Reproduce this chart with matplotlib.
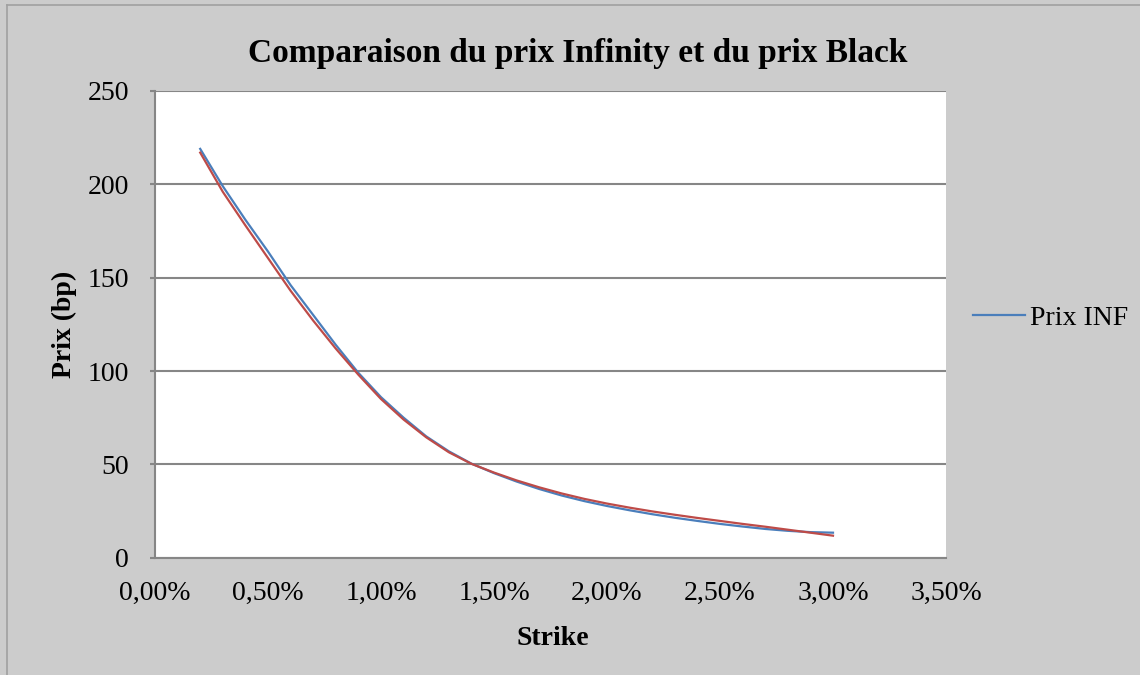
import matplotlib
matplotlib.use('Agg')
import matplotlib.pyplot as plt
from matplotlib.lines import Line2D
from matplotlib.ticker import FuncFormatter

# strike en %
strike = [0.2, 0.3, 0.4, 0.5, 0.6, 0.7, 0.8, 0.9, 1.0, 1.1, 1.2, 1.3, 1.4, 1.5,
          1.6, 1.7, 1.8, 1.9, 2.0, 2.1, 2.2, 2.3, 2.4, 2.5, 2.6, 2.7, 2.8, 2.9, 3.0]
prix_inf = [219, 199, 181, 164, 146, 130, 114, 99, 86, 75, 65, 57, 50.4, 45.3,
            40.8, 36.8, 33.3, 30.3, 27.7, 25.4, 23.3, 21.4, 19.7, 18.1, 16.7, 15.4, 14.4, 13.7, 13.4]
prix_black = [217, 196, 178, 160.5, 143, 127, 112, 98, 85, 74, 64.5, 56.5, 50.3, 45.6,
              41.4, 37.7, 34.4, 31.5, 29.0, 26.8, 24.8, 23.0, 21.3, 19.7, 18.1, 16.6, 15.0, 13.4, 11.8]

font = 'Liberation Serif'
W, H = 1140, 675

fig = plt.figure(figsize=(11.4, 6.75), dpi=100, facecolor='#cccccc')
ax = fig.add_axes([155 / W, 1 - 557.7 / H, (946 - 155) / W, (557.7 - 91) / H])
ax.set_facecolor('white')

ax.plot(strike, prix_inf, color='#4a7ebb', lw=1.6, label='Prix INF', zorder=3,
        solid_joinstyle='round')
ax.plot(strike, prix_black, color='#be4b48', lw=1.6, zorder=3, solid_joinstyle='round')

ax.set_xlim(0, 3.5)
ax.set_ylim(0, 250)
ax.set_xticks([0, 0.5, 1.0, 1.5, 2.0, 2.5, 3.0, 3.5])
ax.set_yticks([0, 50, 100, 150, 200, 250])
ax.xaxis.set_major_formatter(FuncFormatter(lambda v, p: ('%.2f%%' % v).replace('.', ',')))
ax.yaxis.grid(True, color='#868686', lw=1.5)
ax.set_axisbelow(True)

for s in ['top', 'right']:
    ax.spines[s].set_visible(False)
for s in ['left', 'bottom']:
    ax.spines[s].set_color('#868686')
    ax.spines[s].set_linewidth(1.5)
ax.tick_params(axis='x', length=0, labelsize=20, pad=17, colors='black')
ax.tick_params(axis='y', length=3.6, color='#868686', width=1.5, labelsize=20, pad=15)
for lab in ax.get_xticklabels() + ax.get_yticklabels():
    lab.set_fontfamily(font)

# titre et axes
fig.text(578 / W, 1 - 62 / H, 'Comparaison du prix Infinity et du prix Black',
         fontsize=24, fontweight='bold', fontfamily=font, ha='center', va='baseline')
fig.text(553 / W, 1 - 645 / H, 'Strike', fontsize=20, fontweight='bold',
         fontfamily=font, ha='center', va='baseline')
fig.text(64 / W, 1 - 324 / H, 'Prix (bp)', fontsize=20, fontweight='bold',
         fontfamily=font, ha='center', va='center', rotation=90)

leg = ax.legend(loc='center left', bbox_to_anchor=(973 / W, 1 - 318 / H),
                bbox_transform=fig.transFigure, frameon=False, borderpad=0,
                borderaxespad=0, prop={'family': font, 'size': 20},
                handlelength=1.87, handletextpad=0.2)

# bordure du graphique
fig.add_artist(Line2D([7 / W, 7 / W], [0, 1 - 5 / H], color='#a0a0a0', lw=1.2))
fig.add_artist(Line2D([7 / W, 1], [1 - 5 / H, 1 - 5 / H], color='#a0a0a0', lw=1.2))

fig.savefig('out.png', dpi=100, facecolor=fig.get_facecolor())
